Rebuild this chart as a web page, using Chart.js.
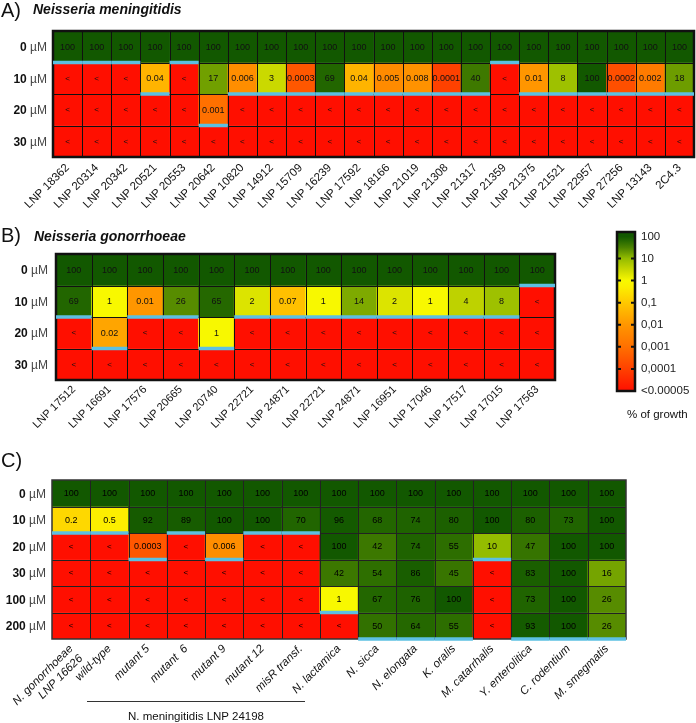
<!DOCTYPE html>
<html><head><meta charset="utf-8">
<script src="https://cdn.jsdelivr.net/npm/chart.js@4.4.1/dist/chart.umd.min.js"></script>
<style>
html,body{margin:0;padding:0;background:#fff;}
body{width:696px;height:723px;position:relative;overflow:hidden;font-family:"Liberation Sans",Arial,sans-serif;}
canvas{position:absolute;}
.t{position:absolute;white-space:nowrap;color:#111;}
.pl{font-size:20px;line-height:20px;}
.sp{font-size:14px;line-height:14px;font-weight:bold;font-style:italic;}
</style></head><body>
<canvas id="cA" width="696" height="225" style="left:0;top:0"></canvas>
<canvas id="cB" width="696" height="215" style="left:0;top:225px"></canvas>
<canvas id="cC" width="696" height="283" style="left:0;top:440px"></canvas>
<canvas id="cS" width="106" height="205" style="left:590px;top:220px"></canvas>
<div class="t pl" style="left:1px;top:0px">A)</div>
<div class="t sp" style="left:33px;top:2px">Neisseria meningitidis</div>
<div class="t pl" style="left:1px;top:225px">B)</div>
<div class="t sp" style="left:34px;top:229px">Neisseria gonorrhoeae</div>
<div class="t pl" style="left:1px;top:450px">C)</div>
<div class="t" style="left:627px;top:407px;font-size:11.5px;line-height:14px">% of growth</div>
<div style="position:absolute;left:87px;top:701px;width:218px;height:1px;background:#333"></div>
<div class="t" style="left:96px;top:710px;width:200px;text-align:center;font-size:11.5px;line-height:13px">N. meningitidis LNP 24198</div>
<script>
const B = null; // below detection limit, shown as "<"

// ---------- Panel A: Neisseria meningitidis ----------
const aStrains = ['LNP 18362','LNP 20314','LNP 20342','LNP 20521','LNP 20553','LNP 20642','LNP 10820','LNP 14912','LNP 15709','LNP 16239','LNP 17592','LNP 18166','LNP 21019','LNP 21308','LNP 21317','LNP 21359','LNP 21375','LNP 21521','LNP 22957','LNP 27256','LNP 13143','2C4.3'];
const aDoses = ['0','10','20','30'];
const aGrowth0  = [100,100,100,100,100,100,100,100,100,100,100,100,100,100,100,100,100,100,100,100,100,100];
const aGrowth10 = [B,B,B,0.04,B,17,0.006,3,0.0003,69,0.04,0.005,0.008,0.0001,40,B,0.01,8,100,0.0002,0.002,18];
const aGrowth20 = [B,B,B,B,B,0.001,B,B,B,B,B,B,B,B,B,B,B,B,B,B,B,B];
const aGrowth30 = [B,B,B,B,B,B,B,B,B,B,B,B,B,B,B,B,B,B,B,B,B,B];

// ---------- Panel B: Neisseria gonorrhoeae ----------
const bStrains = ['LNP 17512','LNP 16691','LNP 17576','LNP 20665','LNP 20740','LNP 22721','LNP 24871','LNP 22721','LNP 24871','LNP 16951','LNP 17046','LNP 17517','LNP 17015','LNP 17563'];
const bDoses = ['0','10','20','30'];
const bGrowth0  = [100,100,100,100,100,100,100,100,100,100,100,100,100,100];
const bGrowth10 = [69,1,0.01,26,65,2,0.07,1,14,2,1,4,8,B];
const bGrowth20 = [B,0.02,B,B,1,B,B,B,B,B,B,B,B,B];
const bGrowth30 = [B,B,B,B,B,B,B,B,B,B,B,B,B,B];

// ---------- Panel C: other strains / species ----------
const cStrains = [['N. gonorrhoeae','LNP 16626'],'wild-type','mutant 5','mutant  6','mutant 9','mutant 12','misR transf.','N. lactamica','N. sicca','N. elongata','K. oralis','M. catarrhalis','Y. enterolitica','C. rodentium','M. smegmatis'];
const cDoses = ['0','10','20','30','100','200'];
const cGrowth0   = [100,100,100,100,100,100,100,100,100,100,100,100,100,100,100];
const cGrowth10  = [0.2,0.5,92,89,100,100,70,96,68,74,80,100,80,73,100];
const cGrowth20  = [B,B,0.0003,B,0.006,B,B,100,42,74,55,10,47,100,100];
const cGrowth30  = [B,B,B,B,B,B,B,42,54,86,45,B,83,100,16];
const cGrowth100 = [B,B,B,B,B,B,B,1,67,76,100,B,73,100,26];
const cGrowth200 = [B,B,B,B,B,B,B,B,50,64,55,B,93,100,26];

// ---------- colour scale ----------
const scaleTicks  = [2,1,0,-1,-2,-3,-4,-5];
const scaleLabels = ['100','10','1','0,1','0,01','0,001','0,0001','<0.00005'];

const STOPS = [
  [-5,255,15,0],[-4,255,65,0],[-3,255,112,0],[-2,255,150,0],[-1,255,200,0],
  [-0.3,252,238,0],[0,248,248,0],[0.3,220,228,0],[0.6,190,210,0],[1,148,188,0],
  [1.25,110,158,0],[1.5,75,130,0],[1.8,38,105,0],[2,18,88,0]];
function colorAtLog(L){
  L = Math.max(-5, Math.min(2, L));
  for (let i=1;i<STOPS.length;i++){
    const a=STOPS[i-1], b=STOPS[i];
    if (L<=b[0]){
      const t=(L-a[0])/(b[0]-a[0]);
      const c=[1,2,3].map(k=>Math.round(a[k]+(b[k]-a[k])*t));
      return `rgb(${c[0]},${c[1]},${c[2]})`;
    }
  }
  return 'rgb(18,88,0)';
}
function growthColor(v){ return v===B ? colorAtLog(-5) : colorAtLog(Math.log10(v)); }
function fmt(v){ return v===B ? '<' : String(v); }

const FONT = '"Liberation Sans", Arial, sans-serif';

function heatmap(id, cols, doses, grid, cfg){
  const nR = doses.length, nC = cols.length;
  const datasets = doses.map((d,i)=>({
    label: d+' µM',
    data: cols.map(()=>1),
    backgroundColor: grid[i].map(growthColor),
    borderWidth: 0, categoryPercentage: 1, barPercentage: 1, stack: 'g'
  }));
  const plugin = {
    id: 'heat_'+id,
    afterDatasetsDraw(chart){
      const ctx = chart.ctx, xs = chart.scales.x, ys = chart.scales.y;
      const hw = (xs.getPixelForValue(1) - xs.getPixelForValue(0))/2;
      const left = xs.getPixelForValue(0)-hw, right = xs.getPixelForValue(nC-1)+hw;
      const top = ys.getPixelForValue(0), bottom = ys.getPixelForValue(nR);
      ctx.save();
      ctx.strokeStyle = cfg.gridColor; ctx.lineWidth = 1;
      ctx.beginPath();
      for (let c=1;c<nC;c++){ const x=Math.round(xs.getPixelForValue(c)-hw)+0.5; ctx.moveTo(x,top); ctx.lineTo(x,bottom); }
      for (let r=1;r<nR;r++){ const y=Math.round(ys.getPixelForValue(r))+0.5; ctx.moveTo(left,y); ctx.lineTo(right,y); }
      ctx.stroke();
      ctx.lineWidth = cfg.outerW; ctx.strokeStyle = cfg.outerColor;
      ctx.strokeRect(left, top, right-left, bottom-top);
      // blue MIC boundary under the last row that still grows
      ctx.strokeStyle = '#5cc0e2'; ctx.lineWidth = 3.5; ctx.lineCap = 'butt';
      for (let c=0;c<nC;c++){
        let last = -1;
        for (let r=0;r<nR;r++) if (grid[r][c]!==B) last=r;
        const y = ys.getPixelForValue(last+1);
        const x0 = xs.getPixelForValue(c)-hw, x1 = xs.getPixelForValue(c)+hw;
        ctx.beginPath(); ctx.moveTo(x0,y); ctx.lineTo(x1,y); ctx.stroke();
      }
      ctx.textAlign='center'; ctx.textBaseline='middle'; ctx.fillStyle = cfg.textColor;
      for (let r=0;r<nR;r++){
        const cy = (ys.getPixelForValue(r)+ys.getPixelForValue(r+1))/2;
        for (let c=0;c<nC;c++){
          const v = grid[r][c];
          ctx.font = (v===B ? cfg.ltFont : cfg.cellFont)+'px '+FONT;
          ctx.fillText(fmt(v), xs.getPixelForValue(c), cy+0.5);
        }
      }
      ctx.textAlign='right';
      for (let r=0;r<nR;r++){
        const cy = (ys.getPixelForValue(r)+ys.getPixelForValue(r+1))/2;
        const xr = left - cfg.rowGap;
        ctx.font = '12px '+FONT; ctx.fillStyle='#444';
        ctx.fillText('µM', xr, cy+1);
        const w = ctx.measureText('µM').width + ctx.measureText(' ').width;
        ctx.font = 'bold 12px '+FONT; ctx.fillStyle='#111';
        ctx.fillText(doses[r], xr-w, cy+1);
      }
      ctx.restore();
    }
  };
  return new Chart(document.getElementById(id), {
    type:'bar',
    data:{ labels: cols, datasets },
    options:{
      responsive:false, animation:false, events:[],
      layout:{ padding: cfg.padding },
      plugins:{ legend:{display:false}, tooltip:{enabled:false} },
      scales:{
        x:{ type:'category', stacked:true, grid:{display:false, drawTicks:false}, border:{display:false},
            ticks:{ autoSkip:false, maxRotation:45, minRotation:45, padding:cfg.tickPad, color:'#111',
                    font:(ctx)=>({family:FONT, size:cfg.tickSize, style: cfg.italic ? 'italic':'normal'}) },
            afterFit(s){ s.height = cfg.axisH; s.paddingLeft = 0; s.paddingRight = 0; } },
        y:{ type:'linear', display:false, stacked:true, min:0, max:nR, reverse:true }
      }
    },
    plugins:[plugin]
  });
}

heatmap('cA', aStrains, aDoses, [aGrowth0,aGrowth10,aGrowth20,aGrowth30],
  {padding:{left:53,right:2,top:31,bottom:0}, axisH:68, tickPad:4, tickSize:11.5, gridColor:'#111', outerW:2.5, outerColor:'#111',
   textColor:'#111', cellFont:9, ltFont:8, rowGap:6, italic:false});
heatmap('cB', bStrains, bDoses, [bGrowth0,bGrowth10,bGrowth20,bGrowth30],
  {padding:{left:56,right:141,top:29,bottom:0}, axisH:60, tickPad:3, tickSize:11, gridColor:'#111', outerW:2.5, outerColor:'#111',
   textColor:'#111', cellFont:9, ltFont:8, rowGap:8, italic:false});
heatmap('cC', cStrains, cDoses, [cGrowth0,cGrowth10,cGrowth20,cGrowth30,cGrowth100,cGrowth200],
  {padding:{left:52,right:70,top:40,bottom:0}, axisH:84, tickPad:3, tickSize:11.5, gridColor:'#222', outerW:1.5, outerColor:'#333',
   textColor:'#000', cellFont:9, ltFont:8, rowGap:6, italic:true});

// ---------- colour bar ----------
new Chart(document.getElementById('cS'), {
  type:'bar',
  data:{ labels:['growth'], datasets:[{ data:[[-5, 2.2]], borderWidth:0, categoryPercentage:1, barPercentage:1,
    backgroundColor:(c)=>{
      const ch=c.chart; if(!ch.chartArea) return 'red';
      const ys=ch.scales.y; const y0=ys.getPixelForValue(2.2), y1=ys.getPixelForValue(-5);
      const g=ch.ctx.createLinearGradient(0,y0,0,y1);
      g.addColorStop(0, colorAtLog(2));
      STOPS.slice().reverse().forEach(s=>{ g.addColorStop(Math.min(1,Math.max(0,(ys.getPixelForValue(s[0])-y0)/(y1-y0))), colorAtLog(s[0])); });
      return g;
    } }] },
  options:{
    responsive:false, animation:false, events:[],
    layout:{ padding:{left:27,right:0,top:12,bottom:34} },
    plugins:{ legend:{display:false}, tooltip:{enabled:false} },
    scales:{
      x:{ display:false },
      y:{ position:'right', min:-5, max:2.2, grid:{display:false, drawTicks:false}, border:{display:false},
          afterBuildTicks(s){ s.ticks = scaleTicks.map(v=>({value:v})); },
          ticks:{ padding:6, color:'#222', font:{family:FONT, size:11.5}, callback:(v,i)=>scaleLabels[i] },
          afterFit(s){ s.width = 61; s.paddingTop = 0; s.paddingBottom = 0; } }
    }
  },
  plugins:[{ id:'cbar', afterDatasetsDraw(ch){
    const ctx=ch.ctx, ca=ch.chartArea, ys=ch.scales.y;
    ctx.save();
    ctx.strokeStyle='#111'; ctx.lineWidth=2;
    ctx.beginPath();
    [1,0,-1,-2,-3,-4].forEach(v=>{ const y=ys.getPixelForValue(v);
      ctx.moveTo(ca.left, y); ctx.lineTo(ca.left+4, y); ctx.moveTo(ca.right-4, y); ctx.lineTo(ca.right, y); });
    ctx.stroke();
    ctx.lineWidth=2.5; ctx.strokeRect(ca.left, ca.top, ca.right-ca.left, ca.bottom-ca.top);
    ctx.restore();
  }}]
});
</script>
</body></html>
